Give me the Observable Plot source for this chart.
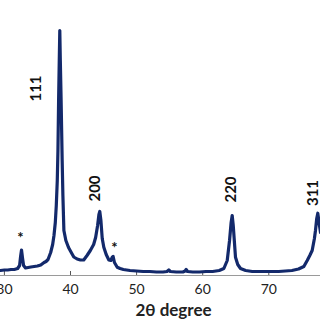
<!DOCTYPE html>
<html>
<head>
<meta charset="utf-8">
<script src="https://cdn.jsdelivr.net/npm/d3@7"></script>
<script src="https://cdn.jsdelivr.net/npm/@observablehq/plot@0.6"></script>
<style>
  html, body { margin: 0; padding: 0; background: #fff; }
  #chart svg { font-family: Lato, "Open Sans", sans-serif; display: block; }
</style>
</head>
<body>
<div id="chart"></div>
<script>
// 2θ (degree) sampled along the pattern
const twoTheta = [
  29.4, 30.0, 30.5, 31.0, 31.5, 32.0, 32.3, 32.45, 32.59, 32.75, 32.9, 33.2, 33.6, 34.0, 34.5, 35.0, 35.5,
  36.0, 36.3, 36.6, 37.0, 37.3, 37.5, 37.7, 37.85, 38.0, 38.1, 38.2, 38.3, 38.38, 38.46, 38.58, 38.74, 38.85,
  39.0, 39.3, 39.7, 40.2, 40.5, 41.0, 41.5, 42.0, 42.5, 43.0, 43.5, 43.8, 44.1, 44.3, 44.43, 44.6, 44.8,
  45.04, 45.4, 45.8, 46.1, 46.3, 46.45, 46.65, 47.07, 47.5, 48.0, 49.0, 50.0, 51.0, 52.0, 53.0, 54.0,
  54.6, 54.87, 55.1, 56.0, 57.0, 57.35, 57.5, 57.7, 58.5, 59.5, 60.5, 61.5, 62.5, 63.2, 63.71, 64.06,
  64.3, 64.46, 64.62, 64.96, 65.3, 65.72, 66.5, 67.5, 68.5, 69.5, 70.5, 71.5, 72.5, 73.5, 74.5, 75.3,
  75.81, 76.2, 76.56, 76.9, 77.06, 77.25, 77.41, 77.6, 77.82
];
// intensity (a.u.)
const intensity = [
  50, 55, 55, 60, 60, 70, 100, 190, 255, 170, 100, 75, 80, 85, 90, 95, 105,
  130, 140, 160, 230, 310, 400, 530, 700, 950, 1250, 1750, 2150, 2450, 2150, 1750, 1150, 800,
  450, 350, 280, 220, 185, 165, 155, 155, 200, 250, 310, 380, 500, 610, 640, 550, 370,
  283, 210, 155, 150, 180, 190, 130, 83, 70, 60, 50, 45, 40, 40, 35, 35,
  40, 55, 40, 35, 35, 45, 60, 40, 35, 35, 40, 40, 50, 70, 150, 350,
  530, 600, 500, 183, 110, 70, 50, 40, 40, 40, 40, 40, 45, 50, 65, 90,
  150, 200, 250, 370, 450, 570, 623, 530, 430
];
// peak labels
const peakLabels = ["111", "200", "220", "311"];
const peakLabelX = [34.86, 43.78, 64.28, 76.76];
const peakLabelY = [1870, 870, 860, 825];
// impurity markers
const starX = [32.44, 46.66];
const starY = [370, 270];
// axis
const xTicks = [30, 40, 50, 60, 70];
const xTitle = "2θ degree";

const pattern = twoTheta.map((t, i) => ({t, v: intensity[i]}));
const labels = peakLabels.map((s, i) => ({s, x: peakLabelX[i], y: peakLabelY[i]}));
const stars = starX.map((x, i) => ({x, y: starY[i]}));

const plot = Plot.plot({
  width: 320,
  height: 320,
  marginTop: 0,
  marginRight: 0,
  marginBottom: 45,
  marginLeft: 0,
  x: {domain: [29.41, 77.82]},
  y: {domain: [0, 2750], axis: null},
  marks: [
    Plot.ruleY([0], {stroke: "#9a9a9a", strokeWidth: 1}),
    Plot.ruleX(xTicks, {x: d => d, y1: 0, y2: 40, stroke: "#555", strokeWidth: 1}),
    Plot.axisX({ticks: xTicks, tickSize: 0, tickPadding: 9, fontSize: 14, label: null, color: "#222"}),
    Plot.line(pattern, {x: "t", y: "v", stroke: "#13296b", strokeWidth: 3.2, strokeLinejoin: "round", clip: true}),
    Plot.text(labels, {x: "x", y: "y", text: "s", rotate: -90, fontSize: 15, fontWeight: "bold", fill: "#111"}),
    Plot.text(stars, {x: "x", y: "y", text: () => "*", fontSize: 15, fontWeight: "bold", fill: "#111"}),
    Plot.text([xTitle], {frameAnchor: "bottom", lineAnchor: "middle", dy: 35, dx: 13, fontSize: 17, fontWeight: "bold", fill: "#222"})
  ]
});
document.getElementById("chart").appendChild(plot);
</script>
</body>
</html>
